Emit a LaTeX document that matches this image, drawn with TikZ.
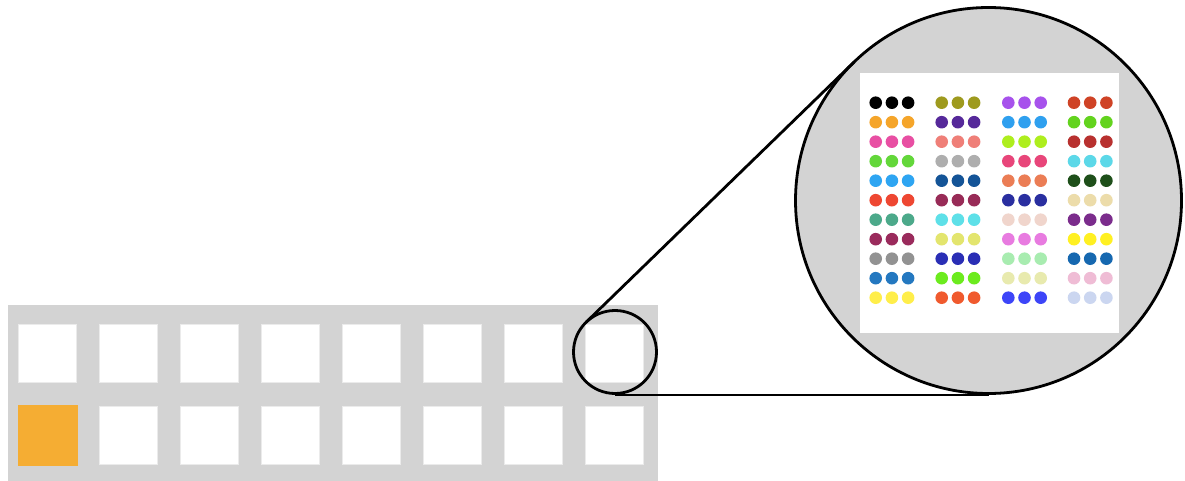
\documentclass[tikz,border=0pt]{standalone}
\begin{document}
\begin{tikzpicture}[x=1pt,y=-1pt,
  cell/.style={draw=black!8,line width=0.6pt,fill=white,minimum size=58pt,inner sep=0pt,outer sep=0pt},
  dot/.style={circle,inner sep=0pt,minimum size=12.6pt,draw=none},
  ring/.style={circle,draw=black,line width=2.8pt,inner sep=0pt},
  link/.style={draw=black,line width=2.8pt}]
\definecolor{panelgray}{HTML}{D3D3D3}
\definecolor{orangecell}{HTML}{F5AD33}
\useasboundingbox (0,0) rectangle (1185,481);
% strip
\node[fill=panelgray,draw=none,minimum width=650pt,minimum height=176pt,inner sep=0pt,outer sep=0pt] (strip) at (333,393) {};
\foreach \i in {0,...,7} {
  \node[cell] (top-\i) at (47.5+81*\i,353) {};
}
\node[cell,fill=orangecell,draw=orangecell,minimum size=59.5pt] (bot-0) at (48,435.5) {};
\foreach \i in {1,...,7} {
  \node[cell] (bot-\i) at (47.5+81*\i,435) {};
}
% magnifier
\node[ring,minimum size=83pt] (lens) at (615,352) {};
\node[ring,fill=panelgray,minimum size=386pt] (zoom) at (988.5,200.5) {};
\node[fill=white,draw=none,minimum width=259pt,minimum height=260pt,inner sep=0pt] (panel) at (989.5,203) {};
\newcommand\dotcol[3]{%
  \foreach \h [count=\r] in {#3} {%
    \definecolor{dc}{HTML}{\h}%
    \foreach \k in {0,1,2} {%
      \node[dot,fill=dc] (d#2-\r-\k) at (#1+\k*16.2,102.7+\r*19.5-19.5) {};
    }%
  }%
}
\dotcol{875.7}{1}{000000,F5A52A,E84FA3,63D73A,2EA5F2,EE4732,4CA98A,9A2B5C,929292,2478C0,FFEE4A}
\dotcol{941.7}{2}{9E9A1E,56299A,EF7F78,AEAEAE,145497,982B57,5EE0E8,E3E56E,2A2EB5,6CEB1E,F05A2E}
\dotcol{1008.3}{3}{A752EC,2FA0EF,AEEE1E,E8467A,EB7D55,2A2FA0,F0D5CC,E87BE0,A8ECB0,E8EAAE,3D45F8}
\dotcol{1074}{4}{CF4326,63D31E,B8312F,5CD8E8,1E4F1A,ECDCAA,7B2C8C,FFF022,1668B0,EFBCD5,CBD6F0}
% tangent lines
\coordinate (t1) at (586.1,322.2);
\coordinate (t2) at (854.1,62.0);
\draw[link,line cap=round] (t1) -- (t2);
\draw[link] (lens.south) -- (zoom.south);
\end{tikzpicture}
\end{document}
